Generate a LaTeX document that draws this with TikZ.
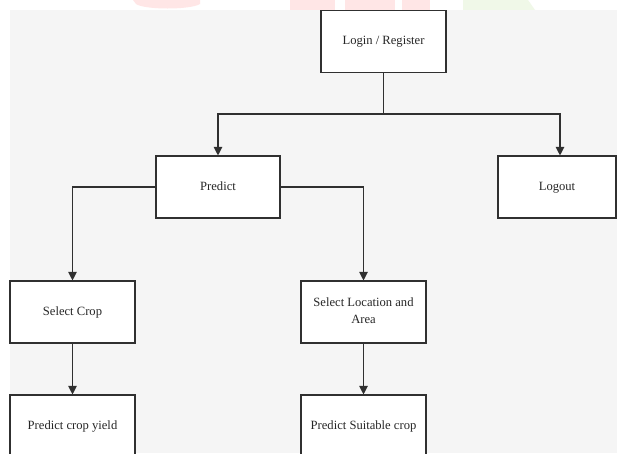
\documentclass[tikz,border=0pt]{standalone}
\usepackage{fontspec}
\setmainfont{Liberation Serif}
\usetikzlibrary{arrows.meta}
\definecolor{bggray}{HTML}{F5F5F5}
\definecolor{linegray}{HTML}{303030}
\definecolor{wmpink}{HTML}{FFE6E6}
\definecolor{wmgreen}{HTML}{F0F8E8}
\tikzset{
  box/.style={draw=linegray, line width=1.1pt, fill=white, rectangle,
    minimum width=125pt, minimum height=62pt, align=center, inner sep=2pt,
    text=black!85, font=\fontsize{12.6}{17}\selectfont,
    text height=9pt, text depth=3pt},
  conn/.style={draw=linegray, line width=1.1pt},
  arr/.style={conn, -{Triangle[width=8.5pt,length=8.5pt]}}
}
\begin{document}
\begin{tikzpicture}[x=1pt,y=-1pt]
\clip (0,0) rectangle (617,453);
\fill[white] (0,0) rectangle (617,453);
% watermark fragments in the top strip
\fill[wmpink] (133,0) -- (200,0) -- (200,4) .. controls (190,10) and (145,10) .. (136,4) -- cycle;
\fill[wmpink] (290,0) rectangle (335,10);
\fill[wmpink] (345,0) rectangle (395,10);
\fill[wmpink] (402,0) rectangle (430,10);
\fill[wmgreen] (463,0) -- (528,0) -- (535,10) -- (463,10) -- cycle;
% background
\fill[bggray] (10,10) rectangle (617,453);

\node[box] (login) at (383.5,41.5) {Login / Register};
\node[box, minimum width=124pt] (predict) at (218,187) {Predict};
\node[box, minimum width=118pt] (logout) at (557,187) {Logout};
\node[box] (selcrop) at (72.5,312) {Select Crop};
\node[box, text height=25pt] (selloc) at (363.5,312) {Select Location and\\Area};
\node[box] (pyield) at (72.5,426) {Predict crop yield};
\node[box] (psuit) at (363.5,426) {Predict Suitable crop};

\coordinate (split) at (383.5,114);
\draw[conn] (login.south) -- (split);
\draw[arr] (split) -| (predict.north);
\draw[arr] (split) -| ([xshift=3pt]logout.north);
\draw[arr] (predict.west) -| (selcrop.north);
\draw[arr] (predict.east) -| (selloc.north);
\draw[arr] (selcrop.south) -- (pyield.north);
\draw[arr] (selloc.south) -- (psuit.north);
\end{tikzpicture}
\end{document}
